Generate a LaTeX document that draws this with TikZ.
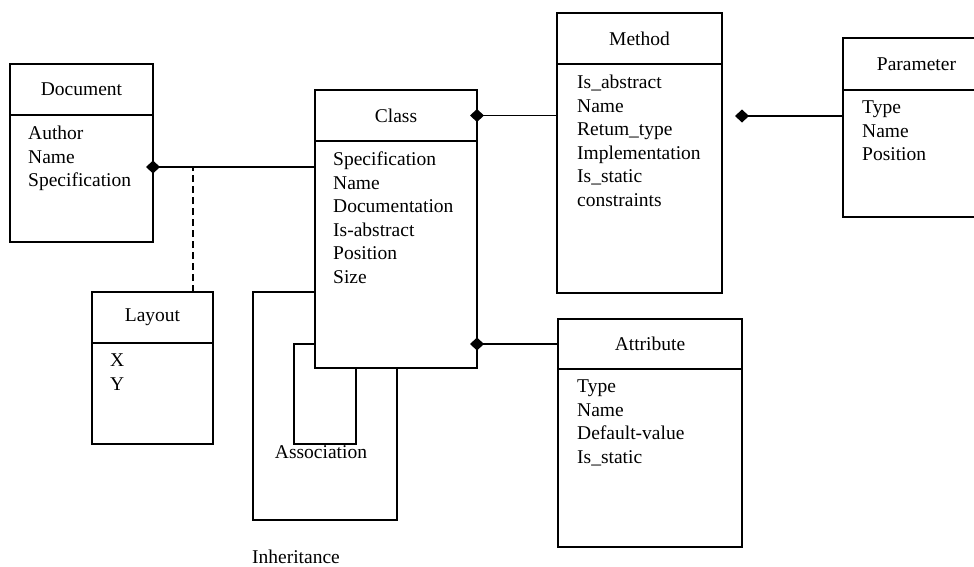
\documentclass[tikz,border=0pt]{standalone}
\usepackage{fontspec}
\setmainfont{Liberation Serif}
\usetikzlibrary{arrows.meta,calc}
\begin{document}
\begin{tikzpicture}[x=1pt,y=-1pt,
  txt/.style={font=\fontsize{19.5}{23.5}\selectfont},
  box/.style={draw,line width=2pt,inner sep=0pt,outer sep=0pt,anchor=north west},
  hdr/.style={box,txt},
  lst/.style={txt,inner sep=0pt,anchor=north west,align=left},
  lbl/.style={txt,inner sep=0pt},
  conn/.style={line width=1.8pt},
  comp/.style={conn,{Diamond[length=14pt 0 0,width=13pt 0 0]}-},
  dep/.style={line width=2pt,dash pattern=on 7pt off 4pt}]
\clip (0,0) rectangle (974,566);

% Document
\node[hdr,minimum width=143pt,minimum height=51pt] (docH) at (10,64) {Document};
\node[box,minimum width=143pt,minimum height=127pt] (docB) at (docH.south west) {};
\node[lst] (docT) at ($(docB.north west)+(18,11)$) {Author\\Name\\Specification};

% Layout
\node[hdr,minimum width=121pt,minimum height=51pt] (layH) at (92,292) {Layout};
\node[box,minimum width=121pt,minimum height=101pt] (layB) at (layH.south west) {};
\node[lst] (layT) at ($(layB.north west)+(18,11)$) {X\\Y};

% Class
\node[hdr,minimum width=162pt,minimum height=51pt] (clsH) at (315,90) {Class};
\node[box,minimum width=162pt,minimum height=227pt] (clsB) at (clsH.south west) {};
\node[lst] (clsT) at ($(clsB.north west)+(18,11)$) {Specification\\Name\\Documentation\\Is-abstract\\Position\\Size};

% Method
\node[hdr,minimum width=165pt,minimum height=51pt] (metH) at (557,13) {Method};
\node[box,minimum width=165pt,minimum height=229pt] (metB) at (metH.south west) {};
\node[lst] (metT) at ($(metB.north west)+(20,11)$) {Is\_abstract\\Name\\Retum\_type\\Implementation\\Is\_static\\constraints};

% Parameter
\node[hdr,minimum width=147pt,minimum height=52pt] (parH) at (843,38) {Parameter};
\node[box,minimum width=147pt,minimum height=127pt] (parB) at (parH.south west) {};
\node[lst] (parT) at ($(parB.north west)+(19,11)$) {Type\\Name\\Position};

% Attribute
\node[hdr,minimum width=184pt,minimum height=50pt] (atH) at (558,319) {Attribute};
\node[box,minimum width=184pt,minimum height=178pt] (atB) at (atH.south west) {};
\node[lst] (atT) at ($(atB.north west)+(19,11)$) {Type\\Name\\Default-value\\Is\_static};

% Connectors
\coordinate (docP) at ($(docB.north east)+(-7,52)$);
\draw[comp] (docP) -- (docP -| clsB.west);
\coordinate (layJ) at ($(layH.north east)+(-20,0)$);
\draw[dep] (layJ) -- (layJ |- docP);

\draw[comp] ($(clsH.east)+(-7,0)$) -- (clsH.east -| metB.west);
\coordinate (clsA) at ($(atH.west -| clsB.east)+(-7,0)$);
\draw[comp] (clsA) -- (atH.west);

\coordinate (parD) at (735,116);
\draw[comp] (parD) -- (parD -| parB.west);

% Inheritance and association loops
\draw[conn] ($(clsB.north west)+(0,151)$) -| ++(-62,228) -| ($(clsB.south west)+(82,0)$);
\draw[conn] ($(clsB.north west)+(0,203)$) -| ++(-21,100) -| ($(clsB.south west)+(41,0)$);

\node[lbl] (assoc) at (321,452) {Association};
\node[lbl] (inher) at (296,557) {Inheritance};
\end{tikzpicture}
\end{document}
